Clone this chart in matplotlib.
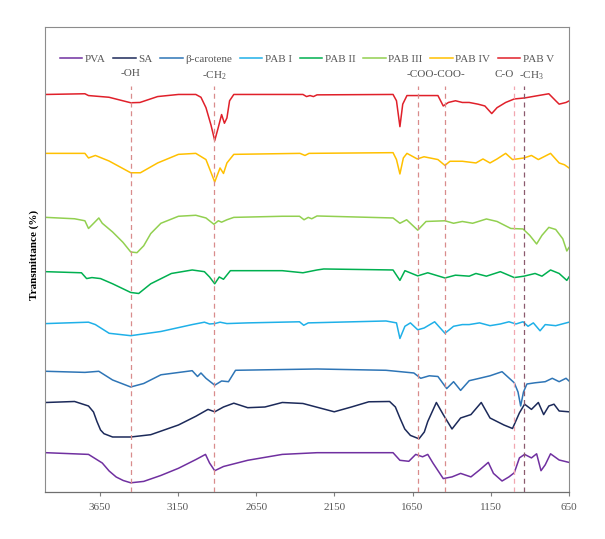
import matplotlib.pyplot as plt

plt.rcParams['font.family'] = ['Liberation Serif', 'DejaVu Serif']
plt.rcParams['mathtext.fontset'] = 'custom'
plt.rcParams['mathtext.rm'] = 'Liberation Serif'
plt.rcParams['mathtext.default'] = 'rm'

# wavenumber (cm-1) and stacked transmittance (arb. units)
pva_wn = [3994, 3722, 3634, 3590, 3545, 3500, 3452, 3369, 3260, 3147, 3036, 2974, 2948, 2915, 2859, 2704,
          2483, 2261, 1775, 1731, 1674, 1630, 1586, 1553, 1520, 1454, 1398, 1343, 1277, 1222, 1166,
          1133, 1078, 1034, 1000, 967, 934, 890, 857, 829, 802, 768, 713, 650]
pva_t = [39.3, 37.6, 29, 21, 15, 11.5, 9.2, 10.6, 16.5, 23.7, 32.4, 37.6, 29, 21.3, 25.5, 31.7,
         37.6, 39.3, 39.3, 31.7, 30.7, 37.6, 35.2, 37.6, 29, 13.4, 15.1, 18.6, 15.1, 22, 29.6,
         18.6, 11, 15.1, 19.2, 34.1, 37.6, 34.1, 38.2, 21.3, 27.2, 38.2, 32, 29.6]

sa_wn = [3994, 3811, 3722, 3690, 3668, 3645, 3623, 3568, 3452, 3324, 3147, 3036, 2958, 2915, 2859,
         2793, 2704, 2594, 2483, 2351, 2151, 2041, 1930, 1797, 1760, 1731, 1700, 1664, 1609, 1575,
         1553, 1498, 1454, 1398, 1343, 1277, 1211, 1155, 1066, 1011, 967, 934, 890, 846, 812, 779,
         746, 713, 650]
sa_t = [89.5, 90.5, 86, 80, 70.5, 62, 58.3, 55, 55, 57.3, 67, 75.7, 82.6, 80.2, 85,
        88.8, 84.3, 85, 89.5, 88.5, 80.2, 85, 90.2, 90.5, 85, 74, 63, 56.6, 53.2, 60,
        70.5, 89.5, 77.4, 63, 74, 77.4, 89.5, 74, 67, 63.5, 79.1, 87.8, 82.6, 89.5, 77.4, 86,
        87.8, 81, 80.2]

bc_wn = [3994, 3745, 3656, 3568, 3452, 3369, 3259, 3059, 3025, 3003, 2971, 2915, 2871, 2827, 2782,
         2261, 1820, 1642, 1598, 1543, 1488, 1432, 1388, 1343, 1288, 1222, 1155, 1078, 1000, 976,
         959, 941, 919, 867, 802, 757, 713, 669, 650]
bc_t = [120.7, 119.6, 120.7, 112, 105, 108.5, 117.2, 121.3, 115.5, 119, 113.7, 106.8, 111, 110.3, 121.7,
        123, 121.7, 119, 113.7, 116.2, 115.5, 103.4, 110.3, 101.6, 111.3, 113.7, 116.2, 120.3, 109.2, 100,
        86, 100, 108, 109.2, 110.3, 113.7, 110.3, 113.7, 111]

pab1_wn = [3994, 3722, 3678, 3590, 3452, 3259, 3059, 2981, 2948, 2915, 2881, 2837, 2704, 2373, 2346,
           2317, 1820, 1753, 1731, 1699, 1664, 1617, 1576, 1509, 1443, 1388, 1332, 1288, 1222, 1155,
           1089, 1034, 989, 944, 912, 878, 835, 802, 735, 650]
pab1_t = [168.4, 169.8, 167.4, 158.7, 156.3, 160.5, 167.4, 169.8, 168, 168.4, 169.8, 168.4, 169.1, 170.2, 166.7,
          169.1, 171, 169.1, 153.5, 165.7, 169.1, 162.2, 164, 170.2, 158.7, 165.7, 167.4, 167.4, 169.1, 166.3,
          168, 170.2, 168, 170.2, 165.7, 169.1, 161.2, 167.4, 166.3, 169.8]

pab2_wn = [3994, 3767, 3734, 3700, 3645, 3568, 3452, 3401, 3324, 3192, 3059, 2981, 2948, 2915, 2886,
           2859, 2815, 2483, 2351, 2261, 2218, 1775, 1753, 1731, 1699, 1617, 1553, 1443, 1376, 1288,
           1245, 1178, 1089, 1000, 938, 867, 823, 768, 713, 664, 650]
pab2_t = [220.3, 219.2, 213.4, 214.4, 213.4, 208.2, 199.5, 198.5, 208.2, 218.5, 222, 220.3, 215, 208.2, 215,
          212.7, 221.3, 221.3, 219.2, 222, 223, 222, 216.8, 211.6, 221.3, 216.1, 219.2, 214, 216.8, 215.8,
          218.5, 215.8, 220.3, 214.4, 215.8, 218.5, 215.8, 222, 218.5, 211.6, 215]

pab3_wn = [3994, 3811, 3745, 3722, 3689, 3656, 3634, 3568, 3502, 3452, 3412, 3369, 3324, 3259, 3147,
           3036, 2971, 2920, 2892, 2871, 2837, 2793, 2483, 2373, 2344, 2317, 2295, 2261, 1775, 1731,
           1688, 1617, 1564, 1443, 1388, 1332, 1266, 1178, 1110, 1022, 944, 901, 857, 823, 779,
           735, 690, 664, 650]
pab3_t = [274.6, 273.2, 271.2, 263.5, 268.7, 274, 268.7, 260, 249.7, 240, 239.3, 246.2, 258.4, 268.7, 275.7,
          276.7, 274, 267.7, 271.2, 269.8, 272.2, 274.6, 275.7, 275.7, 272.2, 274.6, 273.2, 276, 274, 268.7,
          272.2, 261.8, 270.5, 271.2, 268.7, 270.5, 268.7, 273, 270.5, 263.5, 263, 256.6, 248, 256.6, 264.6,
          262.5, 253.2, 241, 244.5]

pab4_wn = [3994, 3745, 3722, 3678, 3591, 3452, 3390, 3280, 3147, 3036, 2971, 2915, 2881, 2859, 2837,
           2793, 2370, 2338, 2312, 1775, 1753, 1731, 1709, 1686, 1620, 1577, 1488, 1443, 1411, 1332,
           1245, 1200, 1155, 1110, 1055, 1011, 938, 890, 846, 768, 713, 679, 650]
pab4_t = [338.6, 338.6, 334, 336.5, 331, 319.2, 319.2, 329, 337.6, 338.6, 332.4, 310, 324, 318.5, 329,
          337.6, 338.6, 336.5, 338.6, 339.3, 332.4, 318, 334, 338.6, 333, 335.2, 332.4, 326.5, 330.7, 330.7,
          329, 333, 329, 333, 338.6, 332.4, 334, 336.5, 332.4, 338.6, 329, 327.2, 324]

pab5_wn = [3994, 3745, 3722, 3591, 3452, 3393, 3280, 3147, 3036, 3003, 2971, 2939, 2915, 2894, 2871,
           2853, 2837, 2820, 2793, 2351, 2328, 2306, 2284, 2261, 1775, 1753, 1731, 1713, 1686, 1620,
           1488, 1454, 1421, 1376, 1332, 1288, 1232, 1188, 1144, 1110, 1055, 1000, 934, 846, 779,
           735, 713, 669, 650]
pab5_t = [397.5, 398.2, 396.4, 394.7, 389.2, 389.5, 395.4, 397.5, 397.5, 394.7, 384.3, 367, 351.4, 363.5, 377.4,
          368.7, 374, 391.2, 397.5, 397.5, 395.4, 396.4, 395.4, 397.1, 397.5, 391.2, 365.3, 387.8, 396.4, 396.4,
          396.4, 386, 389.5, 391.2, 389.5, 389.5, 387.8, 386, 378.4, 384.3, 389.5, 393, 394, 396.4, 398.2,
          391.2, 387.8, 389.5, 391]

names = ['PVA', 'SA', 'β-carotene', 'PAB I', 'PAB II', 'PAB III', 'PAB IV', 'PAB V']
colors = ['#7030a0', '#1c2a5a', '#2e75b6', '#1fb0e8', '#00b050', '#92d050', '#ffc000', '#e0202a']
series = [(pva_wn, pva_t), (sa_wn, sa_t), (bc_wn, bc_t), (pab1_wn, pab1_t),
          (pab2_wn, pab2_t), (pab3_wn, pab3_t), (pab4_wn, pab4_t), (pab5_wn, pab5_t)]

# band markers
peak_wn = [3452, 2920, 1616, 1443, 1000, 938]
peak_colors = ['#d98c8c', '#d98c8c', '#d98c8c', '#d98c8c', '#f2a7b0', '#8c5a6e']
label_text = ['-OH', '-CH$_2$', '-COO-COO-', 'C-O', '-CH$_3$']
label_wn = [3452, 2920, 1500, 1062, 893]
label_y = [418, 416, 417, 417, 416]

ticks = [3650, 3150, 2650, 2150, 1650, 1150, 650]

fig = plt.figure(figsize=(6.05, 5.39), dpi=100)
ax = fig.add_axes([0.0744, 0.0872, 0.8661, 0.8628])

for (wn, t), name, c in zip(series, names, colors):
    ax.plot(wn, t, color=c, lw=1.1, label=name, solid_joinstyle='round')

for w, c in zip(peak_wn, peak_colors):
    ax.plot([w, w], [0, 406], color=c, lw=0.9, ls=(0, (4, 3)), zorder=5)

for txt, w, y in zip(label_text, label_wn, label_y):
    ax.text(w, y, txt, ha='center', va='center', fontsize=8, color='#505050')

ax.set_xlim(4000, 650)
ax.set_ylim(0, 465)
ax.set_xticks(ticks)
ax.set_xticklabels([str(t) for t in ticks], fontsize=8, color='#595959')
ax.set_yticks([])
ax.tick_params(axis='x', length=3, color='#7f7f7f', pad=5)
for s in ['top', 'left', 'right']:
    ax.spines[s].set_color('#8c8c8c')
    ax.spines[s].set_linewidth(0.8)
ax.spines['bottom'].set_color('#6f6f6f')
ax.spines['bottom'].set_linewidth(0.9)

ax.set_ylabel('Transmittance (%)', fontsize=8, fontweight='bold')
ax.yaxis.set_label_coords(-0.012, 0.51)

leg = ax.legend(loc='center', bbox_to_anchor=(0.5, 0.931), ncol=8, frameon=False,
                fontsize=8, handlelength=2.0, handletextpad=0.25, columnspacing=0.7,
                labelcolor='#595959')

fig.savefig('out.png', dpi=100)
